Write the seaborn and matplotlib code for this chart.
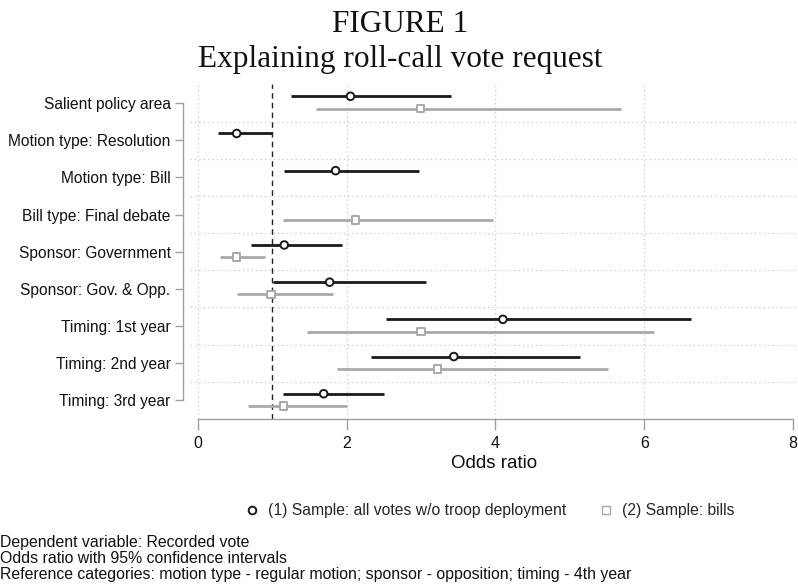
import numpy as np
import pandas as pd
import seaborn as sns
import matplotlib.pyplot as plt
from matplotlib.lines import Line2D


terms = [
    'Salient policy area', 'Motion type: Resolution', 'Motion type: Bill',
    'Bill type: Final debate', 'Sponsor: Government', 'Sponsor: Gov. & Opp.',
    'Timing: 1st year', 'Timing: 2nd year', 'Timing: 3rd year'
]

# model (1): all votes w/o troop deployment
or_1 = [2.05, 0.52, 1.85, np.nan, 1.16, 1.77, 4.10, 3.44, 1.69]
lo_1 = [1.25, 0.27, 1.15, np.nan, 0.71, 1.01, 2.53, 2.32, 1.14]
hi_1 = [3.40, 1.00, 2.97, np.nan, 1.94, 3.06, 6.63, 5.14, 2.50]

# model (2): bills
or_2 = [2.99, np.nan, np.nan, 2.12, 0.52, 0.98, 3.00, 3.22, 1.15]
lo_2 = [1.58, np.nan, np.nan, 1.14, 0.30, 0.53, 1.47, 1.87, 0.67]
hi_2 = [5.69, np.nan, np.nan, 3.96, 0.90, 1.82, 6.13, 5.51, 2.00]

model_names = ['(1) Sample: all votes w/o troop deployment', '(2) Sample: bills']
notes = [
    'Dependent variable: Recorded vote',
    'Odds ratio with 95% confidence intervals',
    'Reference categories: motion type - regular motion; sponsor - opposition; timing - 4th year',
]


def build_frame():
    rows = []
    for m, (est, lo, hi, off) in enumerate([(or_1, lo_1, hi_1, -0.18),
                                            (or_2, lo_2, hi_2, 0.15)]):
        for i, t in enumerate(terms):
            if np.isnan(est[i]):
                continue
            rows.append({'term': t, 'model': model_names[m], 'y': i + off,
                         'est': est[i], 'lo': lo[i], 'hi': hi[i]})
    return pd.DataFrame(rows)


sns.set_style('white')
plt.rcParams['font.family'] = ['Liberation Sans', 'DejaVu Sans']

df = build_frame()
colors = {model_names[0]: '#1a1a1a', model_names[1]: '#a9a9a9'}
markers = {model_names[0]: 'o', model_names[1]: 's'}

fig = plt.figure(figsize=(7.98, 5.86), dpi=100)
ax = fig.add_axes([190 / 798, 1 - 419 / 586, 608 / 798, (419 - 84.4) / 586])

# grid
for gx in [0, 2, 4, 6]:
    ax.axvline(gx, color='#c8c8c8', lw=0.9, ls=(0, (1, 2.5)), zorder=0)
for gy in np.arange(0.5, len(terms) - 1, 1.0):
    ax.axhline(gy, color='#c8c8c8', lw=0.9, ls=(0, (1, 2.5)), zorder=0)
ax.axvline(1, color='#222222', lw=1.0, ls=(0, (4, 3)), zorder=1)

# confidence intervals
for name in model_names:
    sub = df[df.model == name]
    ax.hlines(sub.y, sub.lo, sub.hi, color=colors[name], lw=2.0, zorder=2)

# point estimates
sns.scatterplot(data=df, x='est', y='y', hue='model', style='model',
                palette=colors, markers=markers, s=30,
                linewidth=1.4, legend=False, ax=ax, zorder=3)
pts = ax.collections[-1]
pts.set_edgecolors([colors[m] for m in df.model])
pts.set_facecolors('white')

ax.set_xlim(-8 / 74.4, 8 + 5 / 74.4)
ax.set_ylim(len(terms) - 0.5, -0.5)
ax.set_xticks([0, 2, 4, 6, 8])
ax.set_yticks(range(len(terms)))
ax.set_yticklabels(terms)
ax.set_xlabel('Odds ratio', fontsize=13.5, color='#111111', labelpad=3)
ax.set_ylabel('')

for s in ['top', 'right']:
    ax.spines[s].set_visible(False)
ax.spines['left'].set_position(('outward', 5))
ax.spines['left'].set_bounds(0, len(terms) - 1)
ax.spines['bottom'].set_bounds(0, 8)
for s in ['left', 'bottom']:
    ax.spines[s].set_color('#a0a0a0')
    ax.spines[s].set_linewidth(1.0)
ax.tick_params(axis='y', length=6, width=1.0, color='#a0a0a0', pad=3,
               labelsize=11.2, labelcolor='#111111', left=True)
ax.tick_params(axis='x', length=8, width=1.0, color='#a0a0a0', pad=4,
               labelsize=11.5, labelcolor='#111111', bottom=True)

# titles
serif = ['Liberation Serif', 'DejaVu Serif']
fig.text(400 / 798, 1 - 31.5 / 586, 'FIGURE 1', ha='center', va='baseline',
         fontsize=22.5, family=serif, color='#111111')
fig.text(400 / 798, 1 - 66.5 / 586, 'Explaining roll-call vote request', ha='center',
         va='baseline', fontsize=22.5, family=serif, color='#111111')

# legend
handles = [
    Line2D([], [], ls='none', marker='o', markersize=5.5, markerfacecolor='white',
           markeredgecolor='#1a1a1a', markeredgewidth=1.4),
    Line2D([], [], ls='none', marker='s', markersize=5.5, markerfacecolor='white',
           markeredgecolor='#a9a9a9', markeredgewidth=1.0),
]
fig.legend(handles, model_names, loc='center left',
           bbox_to_anchor=(244 / 798, 1 - 511 / 586),
           ncol=2, frameon=False, fontsize=11.3, handlelength=1.0,
           handletextpad=0.55, columnspacing=2.0, borderpad=0, borderaxespad=0)

for k, line in enumerate(notes):
    fig.text(0, 1 - (543 + 15.5 * k) / 586, line, ha='left', va='center',
             fontsize=11.4, color='#111111')

fig.savefig('out.png', dpi=100)
